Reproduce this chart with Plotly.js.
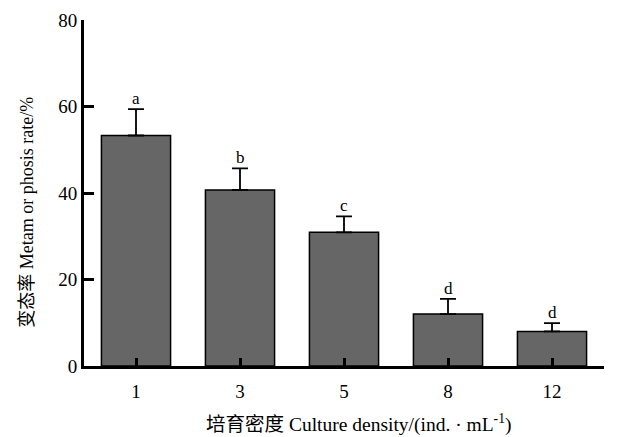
<!DOCTYPE html>
<html>
<head>
<meta charset="utf-8">
<script src="https://cdn.plot.ly/plotly-3.0.1.min.js"></script>
<style>html,body{margin:0;padding:0;background:#fff;}#chart{width:618px;height:437px;}</style>
</head>
<body>
<div id="chart"></div>
<script>
var categories = ['1', '3', '5', '8', '12'];
var values = [53.3, 40.7, 30.9, 12.0, 8.0];
var errors = [6.1, 5.0, 3.7, 3.5, 1.9];
var letters = ['a', 'b', 'c', 'd', 'd'];
var yTicks = [0, 20, 40, 60, 80];

var fontFam = 'Liberation Serif, Noto Sans CJK SC, serif';

var trace = {
  type: 'bar',
  x: categories,
  y: values,
  width: 0.665,
  marker: {color: '#666666', line: {color: '#000', width: 1.5}},
  error_y: {type: 'data', array: errors, symmetric: false, arrayminus: values.map(function(){return 0;}), visible: true, color: '#000', thickness: 1.8, width: 8}
};

var annotations = categories.map(function(c, i) {
  return {x: i, y: values[i] + errors[i], xref: 'x', yref: 'y', text: letters[i], showarrow: false,
    yanchor: 'bottom', yshift: -1, font: {family: fontFam, size: 17, color: '#000'}};
});
annotations.push({
  xref: 'paper', yref: 'paper', x: 0.528, y: -0.209, xanchor: 'center', yanchor: 'bottom', showarrow: false,
  text: '培育密度 Culture density/(ind. · mL<sup>-1</sup>)', font: {family: fontFam, size: 19.5, color: '#000'}
});
annotations.push({
  xref: 'paper', yref: 'paper', x: -0.11, y: 0.445, xanchor: 'center', yanchor: 'middle', showarrow: false, textangle: -90,
  text: '变态率 Metam or phosis rate/%', font: {family: fontFam, size: 18, color: '#000'}
});

var layout = {
  width: 618, height: 437,
  margin: {l: 84, r: 14, t: 20, b: 71},
  paper_bgcolor: '#fff', plot_bgcolor: '#fff',
  showlegend: false,
  xaxis: {
    type: 'category', range: [-0.5, 4.5],
    showline: true, linecolor: '#000', linewidth: 3,
    ticks: 'inside', ticklen: 8, tickwidth: 3, tickcolor: '#000',
    ticklabelstandoff: 6,
    tickfont: {family: fontFam, size: 19, color: '#000'},
    showgrid: false, zeroline: false, fixedrange: true
  },
  yaxis: {
    range: [0, 80], tickvals: yTicks, ticktext: yTicks.map(String),
    showline: true, linecolor: '#000', linewidth: 3,
    ticks: 'inside', ticklen: 10, tickwidth: 3, tickcolor: '#000',
    tickfont: {family: fontFam, size: 19, color: '#000'},
    showgrid: false, zeroline: false, fixedrange: true
  },
  annotations: annotations
};

Plotly.newPlot('chart', [trace], layout, {displayModeBar: false, staticPlot: true});
</script>
</body>
</html>
